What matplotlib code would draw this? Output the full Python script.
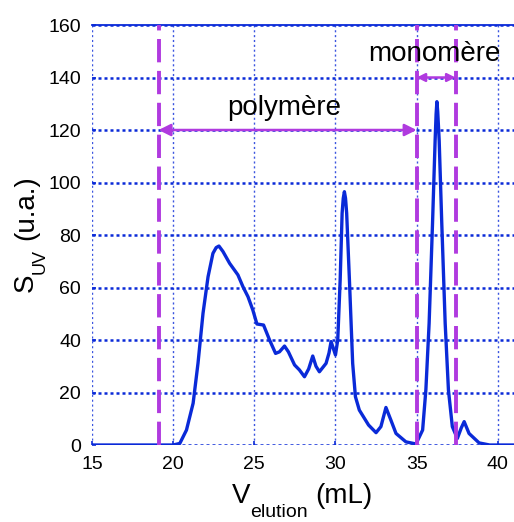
import matplotlib
matplotlib.use("Agg")
import matplotlib.pyplot as plt

# Chromatogram: elution volume (mL) vs UV signal (a.u.)
v_elution = [15.0, 20.0, 20.41, 20.82, 21.23, 21.53, 21.84, 22.15, 22.45, 22.65,
             22.82, 23.07, 23.48, 23.99, 24.3, 24.61, 24.91, 25.16, 25.57, 25.94,
             26.31, 26.55, 26.86, 27.1, 27.48, 27.78, 28.09, 28.35, 28.6, 28.8,
             29.01, 29.42, 29.6, 29.73, 30.0, 30.14, 30.29, 30.41, 30.48, 30.55,
             30.62, 30.69, 30.86, 31.06, 31.23, 31.47, 32.04, 32.5, 32.8, 33.11,
             33.42, 33.73, 34.34, 34.96, 35.37, 35.57, 35.77, 35.98, 36.14, 36.2,
             36.25, 36.3, 36.39, 36.55, 36.76, 36.96, 37.2, 37.51, 37.75, 37.93,
             38.23, 38.85, 39.5, 41.0]
s_uv = [0.0, 0.0, 0.6, 5.7, 15.9, 31.1, 50.2, 64.1, 73.0, 75.2,
        75.8, 73.7, 69.2, 64.8, 60.3, 56.5, 51.4, 46.1, 45.7, 40.0,
        34.9, 35.5, 37.7, 35.5, 30.5, 28.6, 26.0, 29.0, 33.9, 30.0,
        27.9, 31.1, 35.0, 39.4, 34.3, 40.0, 62.9, 88.3, 94.0, 96.5,
        94.0, 88.3, 62.9, 31.1, 18.4, 13.3, 7.6, 4.7, 7.0, 14.3,
        9.4, 4.4, 1.2, 0.4, 5.7, 21.0, 46.3, 84.4, 116.0, 126.0,
        130.8, 127.0, 116.0, 84.4, 46.3, 21.0, 7.0, 2.5, 6.5, 8.9,
        4.4, 0.8, 0.0, 0.0]

# Fraction boundaries (mL) and annotation labels
bounds = [19.1, 35.0, 37.4]
label_poly = "polymère"
label_mono = "monomère"
x_ticks = [15, 20, 25, 30, 35, 40]
y_ticks = [0, 20, 40, 60, 80, 100, 120, 140, 160]

plt.rcParams["font.family"] = ["Liberation Sans", "DejaVu Sans"]

blue = "#0a2ad8"
purple = "#b03adf"

W, H = 514, 522
fig = plt.figure(figsize=(W / 100, H / 100), dpi=100)
ax = fig.add_axes([0.179, 0.1475, 0.821, 0.8046])

ax.set_xlim(15, 41)
ax.set_ylim(0, 160)

for s in ["left", "right", "bottom"]:
    ax.spines[s].set_visible(False)
ax.spines["top"].set_color(blue)
ax.spines["top"].set_linewidth(1.3)

# grid: thick dotted horizontals, thin dotted verticals
for yv in y_ticks:
    ax.axhline(yv, color=blue, lw=1.8, ls=(0, (1.2, 1.2)), zorder=1)
for xv in x_ticks:
    ax.axvline(xv, color=blue, lw=1.0, ls=(0, (1.5, 2.0)), alpha=0.8, zorder=1)

ax.set_xticks(x_ticks)
ax.set_yticks(y_ticks)
ax.tick_params(direction="in", length=3, width=1.2, color=blue,
               labelsize=14, pad=8)

ax.plot(v_elution, s_uv, color=blue, lw=2.4, zorder=3,
        solid_joinstyle="round", solid_capstyle="butt")

for b in bounds:
    ax.axvline(b, color=purple, lw=2.8, ls=(0, (6, 2.2)), zorder=4)

ax.annotate("", xy=(bounds[0], 120), xytext=(bounds[1], 120),
            arrowprops=dict(arrowstyle="<|-|>", color=purple, lw=1.8,
                            mutation_scale=18, shrinkA=0, shrinkB=0), zorder=5)
ax.annotate("", xy=(bounds[1], 140), xytext=(bounds[2], 140),
            arrowprops=dict(arrowstyle="<|-|>", color=purple, lw=1.8,
                            mutation_scale=12, shrinkA=0, shrinkB=0,
                            facecolor="white"), zorder=5)

ax.text(26.83, 125.7, label_poly, fontsize=20, ha="center", va="baseline", zorder=6)
ax.text(36.08, 146.1, label_mono, fontsize=20, ha="center", va="baseline", zorder=6)


def ftext(px, py, s, **kw):
    """Place figure text using pixel coordinates measured from the top-left."""
    fig.text(px / W, 1 - py / H, s, va="baseline", ha="left",
             rotation_mode="anchor", **kw)


# x-axis label: V with subscript "elution"
ftext(232, 503, "V", fontsize=20)
ftext(250, 517, "elution", fontsize=14)
ftext(315, 503, "(mL)", fontsize=20)

# y-axis label: S with subscript "UV"
ftext(33, 292, "S", fontsize=20, rotation=90)
ftext(45, 274, "UV", fontsize=13, rotation=90)
ftext(33, 240, "(u.a.)", fontsize=20, rotation=90)

fig.savefig("out.png", dpi=100)
